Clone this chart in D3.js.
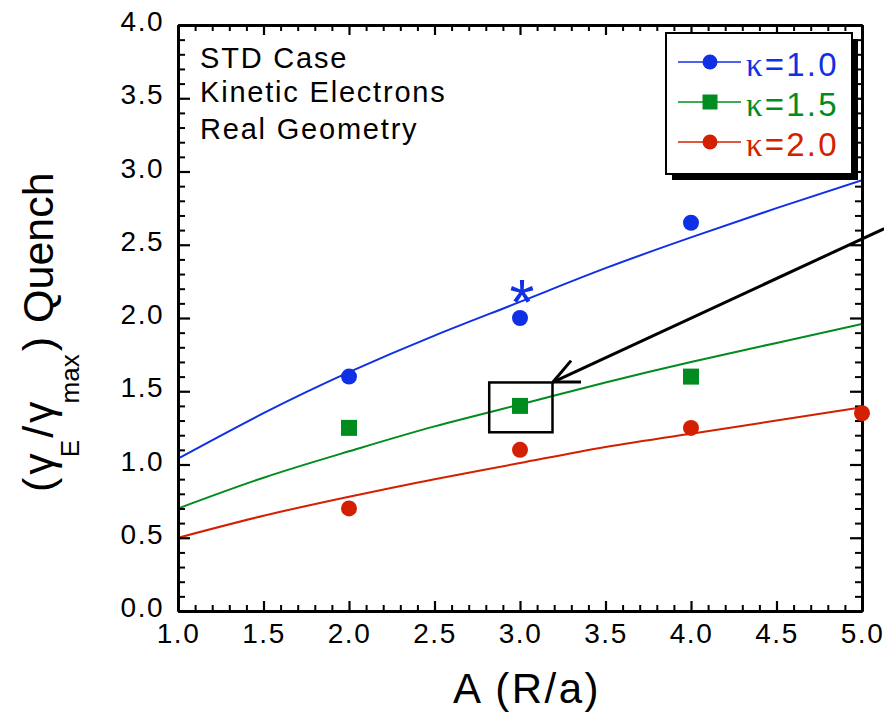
<!DOCTYPE html>
<html>
<head>
<meta charset="utf-8">
<script src="https://cdn.jsdelivr.net/npm/d3@7"></script>
<style>
  html, body { margin: 0; padding: 0; background: #fff; }
  svg { display: block; }
  text { font-family: "Liberation Sans", Arial, Helvetica, sans-serif; }
</style>
</head>
<body>
<svg id="chart" width="884" height="712"></svg>
<script>
// Aspect ratio A and quench shear ratio for three elongations
const kappaLabels = ["κ=1.0", "κ=1.5", "κ=2.0"];
const seriesColors = ["#1030e6", "#008c1e", "#d22000"];

// simulation points
const kappa10A = [2.0, 3.0, 4.0];
const kappa10Q = [1.6, 2.0, 2.65];
const kappa15A = [2.0, 3.0, 4.0];
const kappa15Q = [1.25, 1.4, 1.6];
const kappa20A = [2.0, 3.0, 4.0, 5.0];
const kappa20Q = [0.7, 1.1, 1.25, 1.35];

// extra κ=1.0 point marked with an asterisk
const starA = [3.0];
const starQ = [2.15];

// fitted trend curves
const fitA = [1.0, 1.5, 2.0, 2.5, 3.0, 3.5, 4.0, 4.5, 5.0];
const fit10 = [1.04, 1.35, 1.63, 1.88, 2.11, 2.34, 2.55, 2.75, 2.94];
const fit15 = [0.70, 0.91, 1.09, 1.26, 1.41, 1.56, 1.70, 1.83, 1.96];
const fit20 = [0.50, 0.65, 0.78, 0.90, 1.01, 1.12, 1.21, 1.30, 1.39];

// axis ticks
const xTicks = [1.0, 1.5, 2.0, 2.5, 3.0, 3.5, 4.0, 4.5, 5.0];
const yTicks = [0.0, 0.5, 1.0, 1.5, 2.0, 2.5, 3.0, 3.5, 4.0];

// highlighted case (box) and pointer arrow, in data units
const boxA = [2.82, 3.19];
const boxQ = [1.22, 1.56];
const arrowA = [5.13, 3.193];
const arrowQ = [2.61, 1.563];

const noteLines = ["STD Case", "Kinetic Electrons", "Real Geometry"];

const svg = d3.select("#chart");
const x = d3.scaleLinear().domain([1, 5]).range([178, 862]);
const y = d3.scaleLinear().domain([0, 4]).range([611, 25]);

const xMinor = d3.range(10, 51).map(d => d / 10).filter(d => Math.round(d * 10) % 5 !== 0);
const yMinor = d3.range(0, 41).map(d => d / 10).filter(d => Math.round(d * 10) % 5 !== 0);
const fmt = d3.format(".1f");

svg.append("clipPath").attr("id", "plotClip")
  .append("rect").attr("x", x(1)).attr("y", y(4))
  .attr("width", x(5) - x(1)).attr("height", y(0) - y(4));

// fitted curves
const line = d3.line().curve(d3.curveNatural)
  .x(d => x(d[0])).y(d => y(d[1]));
const fits = [fit10, fit15, fit20];
const gFits = svg.append("g").attr("clip-path", "url(#plotClip)");
fits.forEach((f, i) => {
  gFits.append("path")
    .datum(fitA.map((a, j) => [a, f[j]]))
    .attr("d", line)
    .attr("fill", "none")
    .attr("stroke", seriesColors[i])
    .attr("stroke-width", 2);
});

// axes: major + minor inward ticks on all four sides
function styleAxis(g, w) {
  g.select(".domain").attr("stroke", "#000").attr("stroke-width", 3);
  g.selectAll(".tick line").attr("stroke", "#000").attr("stroke-width", w);
}
const tickFont = g => g.selectAll("text")
  .attr("font-size", 28).attr("fill", "#000")
  .attr("font-family", "Liberation Sans, Arial, sans-serif")
  .style("letter-spacing", "1.5px");

// bottom
svg.append("g").attr("transform", `translate(0,${y(0)})`)
  .call(d3.axisBottom(x).tickValues(xMinor).tickFormat("").tickSize(-6).tickSizeOuter(0))
  .call(g => styleAxis(g, 2));
svg.append("g").attr("transform", `translate(0,${y(0)})`)
  .call(d3.axisBottom(x).tickValues(xTicks).tickFormat(fmt).tickSize(-10).tickSizeOuter(0).tickPadding(12))
  .call(g => styleAxis(g, 2.2)).call(tickFont);
// top
svg.append("g").attr("transform", `translate(0,${y(4)})`)
  .call(d3.axisTop(x).tickValues(xMinor).tickFormat("").tickSize(-6).tickSizeOuter(0))
  .call(g => styleAxis(g, 2));
svg.append("g").attr("transform", `translate(0,${y(4)})`)
  .call(d3.axisTop(x).tickValues(xTicks).tickFormat("").tickSize(-10).tickSizeOuter(0))
  .call(g => styleAxis(g, 2.2));
// left
svg.append("g").attr("transform", `translate(${x(1)},0)`)
  .call(d3.axisLeft(y).tickValues(yMinor).tickFormat("").tickSize(-7).tickSizeOuter(0))
  .call(g => styleAxis(g, 2));
svg.append("g").attr("transform", `translate(${x(1)},0)`)
  .call(d3.axisLeft(y).tickValues(yTicks).tickFormat(fmt).tickSize(-12).tickSizeOuter(0).tickPadding(14))
  .call(g => styleAxis(g, 2.2)).call(tickFont)
  .call(g => g.selectAll("text").attr("dy", "0.2em"));
// right
svg.append("g").attr("transform", `translate(${x(5)},0)`)
  .call(d3.axisRight(y).tickValues(yMinor).tickFormat("").tickSize(-7).tickSizeOuter(0))
  .call(g => styleAxis(g, 2));
svg.append("g").attr("transform", `translate(${x(5)},0)`)
  .call(d3.axisRight(y).tickValues(yTicks).tickFormat("").tickSize(-12).tickSizeOuter(0))
  .call(g => styleAxis(g, 2.2));

// box around the highlighted case and the pointer arrow
svg.append("rect")
  .attr("x", x(boxA[0])).attr("y", y(boxQ[1]))
  .attr("width", x(boxA[1]) - x(boxA[0]))
  .attr("height", y(boxQ[0]) - y(boxQ[1]))
  .attr("fill", "none").attr("stroke", "#000").attr("stroke-width", 2.5);

const tail = [x(arrowA[0]), y(arrowQ[0])];
const tip = [x(arrowA[1]), y(arrowQ[1])];
svg.append("line")
  .attr("x1", tail[0]).attr("y1", tail[1]).attr("x2", tip[0]).attr("y2", tip[1])
  .attr("stroke", "#000").attr("stroke-width", 3);
const back = Math.atan2(tail[1] - tip[1], tail[0] - tip[0]);
const headLen = 28, headAng = 25 * Math.PI / 180;
[-headAng, headAng].forEach(da => {
  svg.append("line")
    .attr("x1", tip[0]).attr("y1", tip[1])
    .attr("x2", tip[0] + headLen * Math.cos(back + da))
    .attr("y2", tip[1] + headLen * Math.sin(back + da))
    .attr("stroke", "#000").attr("stroke-width", 3);
});

// data markers
const circle = d3.symbol().type(d3.symbolCircle).size(Math.PI * 8 * 8);
const square = d3.symbol().type(d3.symbolSquare).size(16 * 16);
const pts = [[kappa10A, kappa10Q, circle], [kappa15A, kappa15Q, square], [kappa20A, kappa20Q, circle]];
pts.forEach(([as, qs, sym], i) => {
  svg.append("g").selectAll("path")
    .data(as.map((a, j) => [a, qs[j]]))
    .join("path")
    .attr("transform", d => `translate(${x(d[0])},${y(d[1])})`)
    .attr("d", sym)
    .attr("fill", seriesColors[i]);
});

svg.append("g").selectAll("text")
  .data(starA.map((a, j) => [a, starQ[j]]))
  .join("text")
  .attr("x", d => x(d[0]) + 2).attr("y", d => y(d[1]) + 29)
  .attr("text-anchor", "middle")
  .attr("font-size", 64)
  .attr("fill", seriesColors[0])
  .text("*");

// case notes
svg.append("g").selectAll("text")
  .data(noteLines).join("text")
  .attr("x", 200)
  .attr("y", (d, i) => [68, 102, 139][i])
  .attr("font-size", 29)
  .style("letter-spacing", "1.8px")
  .attr("fill", "#000")
  .text(d => d);

// legend with drop shadow
const lg = svg.append("g");
const lx = 666, ly = 33, lw = 186, lh = 141;
lg.append("rect").attr("x", lx + 6).attr("y", ly + 6).attr("width", lw).attr("height", lh).attr("fill", "#000");
lg.append("rect").attr("x", lx).attr("y", ly).attr("width", lw).attr("height", lh)
  .attr("fill", "#fff").attr("stroke", "#000").attr("stroke-width", 2);
kappaLabels.forEach((lab, i) => {
  const cy = 62 + i * 40;
  lg.append("line").attr("x1", 678).attr("x2", 741).attr("y1", cy).attr("y2", cy)
    .attr("stroke", seriesColors[i]).attr("stroke-width", 1.5);
  lg.append("path").attr("transform", `translate(710,${cy})`)
    .attr("d", i === 1 ? d3.symbol().type(d3.symbolSquare).size(15 * 15)() : d3.symbol().type(d3.symbolCircle).size(Math.PI * 7.5 * 7.5)())
    .attr("fill", seriesColors[i]);
  const t = lg.append("text").attr("x", 746).attr("y", cy + 14)
    .attr("font-size", 33).attr("fill", seriesColors[i])
    .style("letter-spacing", "2.2px");
  t.append("tspan").attr("font-family", "Liberation Serif, Times New Roman, serif").text(lab.slice(0, 1));
  t.append("tspan").text(lab.slice(1));
});

// axis titles
svg.append("text")
  .attr("x", 527).attr("y", 703)
  .attr("text-anchor", "middle")
  .attr("font-size", 42)
  .style("letter-spacing", "2.5px")
  .attr("fill", "#000")
  .text("A (R/a)");

const yt = svg.append("text")
  .attr("transform", "translate(53,492) rotate(-90)")
  .attr("font-size", 43)
  .attr("fill", "#000");
yt.append("tspan").text("(");
yt.append("tspan").attr("dx", 3).text("γ");
yt.append("tspan").attr("font-size", 26).attr("dy", 26).attr("dx", -4).text("E");
yt.append("tspan").attr("dy", -26).attr("dx", 2).text("/");
yt.append("tspan").attr("dx", 3).text("γ");
yt.append("tspan").attr("font-size", 26).attr("dy", 26).attr("dx", -2).text("max");
yt.append("tspan").attr("dy", -26).attr("dx", 3).text(")");
yt.append("tspan").attr("dx", 14).text("Quench");
</script>
</body>
</html>
